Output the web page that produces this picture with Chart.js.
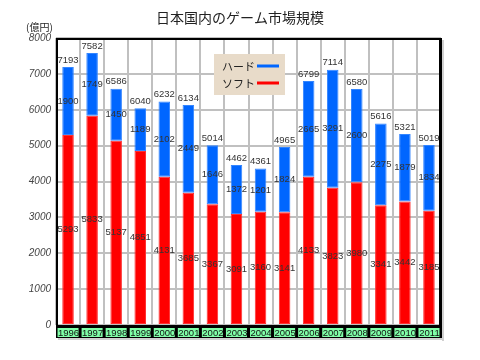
<!DOCTYPE html>
<html>
<head>
<meta charset="utf-8">
<script src="https://cdn.jsdelivr.net/npm/chart.js@4/dist/chart.umd.min.js"></script>
<style>
html,body{margin:0;padding:0;background:#fff;}
#wrap{width:480px;height:360px;}
</style>
</head>
<body>
<div id="wrap"><canvas id="c" width="480" height="360"></canvas></div>
<script>
const years = ['1996','1997','1998','1999','2000','2001','2002','2003','2004','2005','2006','2007','2008','2009','2010','2011'];
const hardValues = [1900,1749,1450,1189,2102,2449,1646,1372,1201,1824,2665,3291,2600,2275,1879,1834];
const softValues = [5293,5833,5137,4851,4131,3685,3367,3091,3160,3141,4133,3823,3980,3341,3442,3185];
const totalValues = [7193,7582,6586,6040,6232,6134,5014,4462,4361,4965,6799,7114,6580,5616,5321,5019];
const chartTitle = '日本国内のゲーム市場規模';
const unitLabel = '(億円)';
const hardLabel = 'ハード';
const softLabel = 'ソフト';

const decorPlugin = {
  id: 'decor',
  afterDatasetsDraw(chart) {
    const ctx = chart.ctx;
    ctx.save();
    ctx.font = '9.5px "Liberation Sans", Arial, sans-serif';
    ctx.fillStyle = '#333';
    ctx.textAlign = 'center';
    ctx.textBaseline = 'middle';
    const soft = chart.getDatasetMeta(0).data;
    const hard = chart.getDatasetMeta(1).data;
    soft.forEach((el, i) => {
      ctx.fillText(String(softValues[i]), el.x, (el.y + el.base) / 2);
    });
    hard.forEach((el, i) => {
      ctx.fillText(String(hardValues[i]), el.x, (el.y + el.base) / 2);
      ctx.fillText(String(totalValues[i]), el.x, el.y - 7);
    });
    ctx.restore();
  },
  afterDraw(chart) {
    const ctx = chart.ctx;
    const a = chart.chartArea;
    const xs = chart.scales.x;
    ctx.save();
    // shadow
    ctx.fillStyle = '#d0d0d0';
    ctx.fillRect(a.right + 1, a.top + 2, 2, a.bottom - a.top + 14);
    ctx.fillRect(a.left + 2, a.bottom + 13, a.right - a.left + 1, 2);
    // frame
    ctx.strokeStyle = '#000';
    ctx.lineWidth = 2;
    ctx.beginPath();
    ctx.moveTo(a.left + 1, a.bottom);
    ctx.lineTo(a.left + 1, a.top + 1);
    ctx.lineTo(a.right, a.top + 1);
    ctx.stroke();
    ctx.lineWidth = 3;
    ctx.beginPath();
    ctx.moveTo(a.right - 0.5, a.top);
    ctx.lineTo(a.right - 0.5, a.bottom + 13);
    ctx.stroke();
    // bottom band
    ctx.fillStyle = '#000';
    ctx.fillRect(a.left, a.bottom, a.right - a.left + 1, 13);
    // x labels
    ctx.font = '9.5px "Liberation Sans", Arial, sans-serif';
    ctx.textAlign = 'center';
    ctx.textBaseline = 'middle';
    xs.ticks.forEach((t, i) => {
      const px = xs.getPixelForTick(i);
      ctx.fillStyle = '#80ffa8';
      ctx.fillRect(px - 10.5, a.bottom + 3, 21, 9);
      ctx.fillStyle = '#111';
      ctx.fillText(xs.getLabelForValue(t.value), px + 0.5, a.bottom + 8);
    });
    // unit label
    ctx.font = '10px "Noto Sans CJK JP", sans-serif';
    ctx.fillStyle = '#222';
    ctx.textAlign = 'left';
    ctx.fillText(unitLabel, 26, 27);
    // legend
    ctx.fillStyle = '#e8dbc9';
    ctx.fillRect(214, 54, 71, 41);
    ctx.font = '11px "Noto Sans CJK JP", sans-serif';
    ctx.fillStyle = '#222';
    ctx.textAlign = 'left';
    ctx.fillText(chart.data.datasets[1].label, 222, 67);
    ctx.fillText(chart.data.datasets[0].label, 222, 84);
    ctx.lineWidth = 3;
    ctx.strokeStyle = chart.data.datasets[1].backgroundColor;
    ctx.beginPath(); ctx.moveTo(257, 66); ctx.lineTo(279, 66); ctx.stroke();
    ctx.strokeStyle = chart.data.datasets[0].backgroundColor;
    ctx.beginPath(); ctx.moveTo(257, 83); ctx.lineTo(279, 83); ctx.stroke();
    ctx.restore();
  }
};

new Chart(document.getElementById('c'), {
  type: 'bar',
  data: {
    labels: years,
    datasets: [
      { label: softLabel, data: softValues, backgroundColor: '#ff0000', borderColor: '#ff3030', borderWidth: 1, borderSkipped: false },
      { label: hardLabel, data: hardValues, backgroundColor: '#0066ff', borderColor: '#3385ff', borderWidth: 1, borderSkipped: false }
    ]
  },
  options: {
    responsive: false,
    animation: false,
    devicePixelRatio: 1,
    layout: { padding: { left: 0, right: 0, top: 0, bottom: 0 } },
    datasets: { bar: { categoryPercentage: 1, barPercentage: 0.48 } },
    plugins: {
      legend: { display: false },
      tooltip: { enabled: false },
      title: {
        display: true,
        text: chartTitle,
        color: '#222',
        font: { family: '"Noto Sans CJK JP", sans-serif', size: 14, weight: 'normal', lineHeight: 1.2 },
        padding: { top: 9, bottom: 12.2 }
      }
    },
    scales: {
      x: {
        stacked: true,
        offset: true,
        grid: { offset: true, color: '#c0c0c0', lineWidth: 2, drawTicks: false },
        border: { display: false },
        ticks: { display: false },
        afterFit: (s) => { s.height = 35; }
      },
      y: {
        stacked: true,
        min: 0,
        max: 8000,
        grid: { color: '#c0c0c0', lineWidth: 2, drawTicks: false },
        border: { display: false },
        ticks: {
          stepSize: 1000,
          padding: 5,
          color: '#444',
          font: { family: '"Liberation Sans", Arial, sans-serif', size: 10, style: 'italic' },
          callback: (v) => String(v)
        },
        afterFit: (s) => { s.width = 56; }
      },
      yRight: {
        position: 'right',
        min: 0,
        max: 8000,
        grid: { display: false, drawTicks: false },
        border: { display: false },
        ticks: { display: false },
        afterFit: (s) => { s.width = 39; }
      }
    }
  },
  plugins: [decorPlugin]
});
</script>
</body>
</html>
